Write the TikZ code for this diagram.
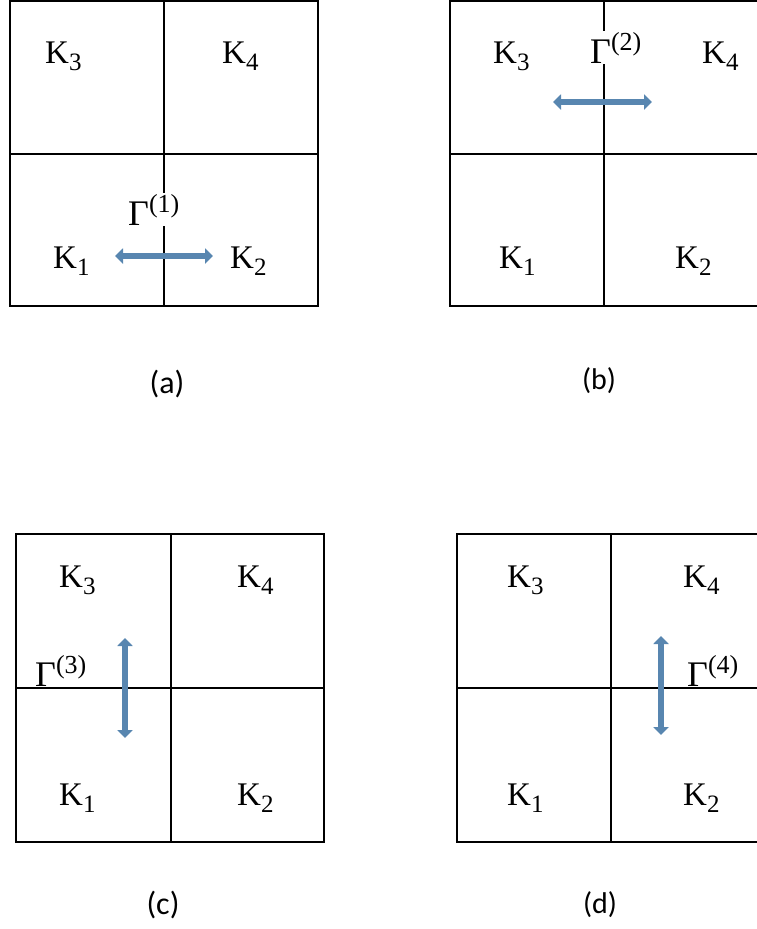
\documentclass[tikz,border=0pt]{standalone}
\usepackage{fontspec}
\newfontfamily\capfont{Carlito}
\newfontfamily\lblfont{Liberation Serif}
\newcommand{\klab}[1]{{\lblfont\fontsize{33}{35}\selectfont K\raisebox{-7pt}{\fontsize{25}{26}\selectfont #1}}}
\newcommand{\glab}[1]{{\lblfont\fontsize{36}{38}\selectfont Γ\raisebox{13pt}{\fontsize{26}{27}\selectfont (#1)}}}
\usetikzlibrary{arrows.meta}
\definecolor{arrowblue}{RGB}{88,134,176}
\begin{document}
\begin{tikzpicture}[x=1pt,y=-1pt,
  grid/.style={line width=1.8pt},
  klabel/.style={inner sep=0pt, anchor=base west},
  glabel/.style={inner sep=1pt, anchor=base west, fill=white},
  caption/.style={font=\capfont\fontsize{32}{34}\selectfont, inner sep=0pt},
  smallcaption/.style={font=\capfont\fontsize{30}{32}\selectfont, inner sep=0pt},
  flux/.style={draw=arrowblue, line width=6.5pt, {Triangle[length=8pt,width=15pt]}-{Triangle[length=8pt,width=15pt]}}]
\useasboundingbox (0,0) rectangle (756,929);
% ---------- (a)
\draw[grid] (10,1) rectangle (318,306);
\draw[grid] (10,154) -- (318,154);
\draw[grid] (164,1) -- (164,306);
\node[klabel] (a3) at (45,63) {\klab{3}};
\node[klabel] (a4) at (222,63) {\klab{4}};
\node[klabel] (a1) at (53,268) {\klab{1}};
\node[klabel] (a2) at (230,268) {\klab{2}};
\node[glabel] (ag) at (127,225) {\glab{1}};
\coordinate (aL) at (115,256);
\coordinate (aR) at (213,256);
\draw[flux] (aL) -- (aR);
\node[caption] (capa) at (167,384) {(a)};
% ---------- (b)
\draw[grid] (450,1) rectangle (760,306);
\draw[grid] (450,154) -- (760,154);
\draw[grid] (604,1) -- (604,306);
\node[klabel] (b3) at (493,63) {\klab{3}};
\node[klabel] (b4) at (702,63) {\klab{4}};
\node[klabel] (b1) at (499,268) {\klab{1}};
\node[klabel] (b2) at (675,268) {\klab{2}};
\node[glabel] (bg) at (589,63) {\glab{2}};
\coordinate (bL) at (553,102);
\coordinate (bR) at (652,102);
\draw[flux] (bL) -- (bR);
\node[smallcaption] (capb) at (599,381) {(b)};
% ---------- (c)
\draw[grid] (16,534) rectangle (324,842);
\draw[grid] (16,688) -- (324,688);
\draw[grid] (171,534) -- (171,842);
\node[klabel] (c3) at (59,587) {\klab{3}};
\node[klabel] (c4) at (237,587) {\klab{4}};
\node[klabel] (c1) at (59,805) {\klab{1}};
\node[klabel] (c2) at (237,805) {\klab{2}};
\node[glabel] (cg) at (34,686) {\glab{3}};
\coordinate (cT) at (125,638);
\coordinate (cB) at (125,738);
\draw[flux] (cT) -- (cB);
\node[caption] (capc) at (163,905) {(c)};
% ---------- (d)
\draw[grid] (457,534) rectangle (760,842);
\draw[grid] (457,688) -- (760,688);
\draw[grid] (611,534) -- (611,842);
\node[klabel] (d3) at (507,587) {\klab{3}};
\node[klabel] (d4) at (683,587) {\klab{4}};
\node[klabel] (d1) at (507,805) {\klab{1}};
\node[klabel] (d2) at (683,805) {\klab{2}};
\node[glabel] (dg) at (686,686) {\glab{4}};
\coordinate (dT) at (661,636);
\coordinate (dB) at (661,735);
\draw[flux] (dT) -- (dB);
\node[smallcaption] (capd) at (600,905) {(d)};
\end{tikzpicture}
\end{document}
